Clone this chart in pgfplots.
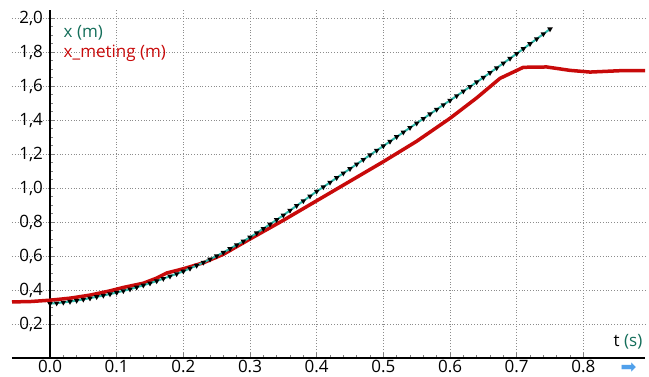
\documentclass[border=0pt]{standalone}
\usepackage{pgfplots}
\pgfplotsset{compat=1.18}
\usepackage{fontspec}
\setmainfont{Open Sans}
\newfontfamily\symfont{DejaVu Sans}
\usetikzlibrary{calc}
\definecolor{teal1}{RGB}{45,185,170}
\definecolor{tealtxt}{RGB}{20,110,90}
\definecolor{red1}{RGB}{200,10,10}
\definecolor{arrowblue}{RGB}{80,160,235}
\begin{document}
\begin{tikzpicture}
\begin{axis}[
  name=ax,
  scale only axis,
  width=316.5pt, height=174.25pt,
  xmin=-0.057, xmax=0.8925,
  ymin=0, ymax=2.05,
  axis lines=middle,
  axis line style={-, black, line width=0.8pt},
  hide obscured x ticks=false,
  tick align=inside,
  major tick length=2.5pt,
  minor tick length=1.5pt,
  xtick={0,0.1,...,0.81},
  ytick={0.2,0.4,...,2.01},
  minor x tick num=4,
  minor y tick num=3,
  grid=major,
  major grid style={densely dotted, gray!90, line width=0.5pt},
  clip=false,
  tick label style={font=\fontsize{8.5}{10}\selectfont, black},
  /pgf/number format/assume math mode=true,
  xticklabel style={/pgf/number format/.cd, fixed, fixed zerofill, precision=1},
  yticklabel style={/pgf/number format/.cd, fixed, fixed zerofill, precision=1, use comma},
  xticklabel shift=-2.5pt,
]
\addplot[red1, line width=1.75pt, line join=round] coordinates {
(-0.057,0.330) (-0.03,0.332) (0.00,0.340) (0.03,0.352) (0.06,0.370) (0.09,0.395)
(0.11,0.415) (0.14,0.440) (0.16,0.470) (0.175,0.500) (0.20,0.525) (0.23,0.560)
(0.26,0.610) (0.30,0.700) (0.35,0.810) (0.40,0.925) (0.45,1.040) (0.50,1.155)
(0.55,1.275) (0.60,1.410) (0.64,1.530) (0.675,1.645) (0.71,1.710) (0.745,1.712)
(0.78,1.692) (0.81,1.682) (0.855,1.690) (0.8925,1.690)
};
\addplot[teal1, line width=1pt, mark=triangle*, mark size=0.6pt,
  mark options={black, fill=black, rotate=180}] coordinates {
(0.00,0.320) (0.01,0.323) (0.02,0.327) (0.03,0.332) (0.04,0.338) (0.05,0.345)
(0.06,0.352) (0.07,0.360) (0.08,0.368) (0.09,0.376) (0.10,0.385) (0.11,0.395)
(0.12,0.405) (0.13,0.416) (0.14,0.428) (0.15,0.440) (0.16,0.453) (0.17,0.467)
(0.18,0.481) (0.19,0.495) (0.20,0.510) (0.21,0.527) (0.22,0.544) (0.23,0.562)
(0.24,0.581) (0.25,0.600) (0.26,0.621) (0.27,0.643) (0.28,0.665) (0.29,0.687)
(0.30,0.710) (0.31,0.735) (0.32,0.761) (0.33,0.787) (0.34,0.813) (0.35,0.840)
(0.36,0.868) (0.37,0.896) (0.38,0.924) (0.39,0.952) (0.40,0.980) (0.41,1.006)
(0.42,1.033) (0.43,1.060) (0.44,1.087) (0.45,1.113) (0.46,1.140) (0.47,1.167)
(0.48,1.194) (0.49,1.221) (0.50,1.247) (0.51,1.274) (0.52,1.301) (0.53,1.328)
(0.54,1.355) (0.55,1.381) (0.56,1.408) (0.57,1.435) (0.58,1.462) (0.59,1.489)
(0.60,1.515) (0.61,1.542) (0.62,1.569) (0.63,1.596) (0.64,1.623) (0.65,1.650)
(0.66,1.678) (0.67,1.706) (0.68,1.734) (0.69,1.762) (0.70,1.790) (0.71,1.819)
(0.72,1.848) (0.73,1.877) (0.74,1.906) (0.75,1.935)
};
\node[anchor=west, inner sep=0pt, text=tealtxt, font=\fontsize{8.5}{10}\selectfont] at (axis cs:0.02,1.915) {x (m)};
\node[anchor=west, inner sep=0pt, text=red1, font=\fontsize{8.5}{10}\selectfont] at (axis cs:0.02,1.795) {x\_meting (m)};
\node[anchor=east, inner sep=0pt, font=\fontsize{8.5}{10}\selectfont] at (axis cs:0.889,0.095) {t \textcolor{tealtxt}{(s)}};
\node[inner sep=0pt, text=arrowblue, font=\symfont\fontsize{9.5}{9.5}\selectfont] at (axis cs:0.868,-0.06) {➡};
\end{axis}
\pgfresetboundingbox
\path ($(ax.south west)+(-6pt,-9pt)$) rectangle ($(ax.north east)+(2pt,4.75pt)$);
\end{tikzpicture}
\end{document}
